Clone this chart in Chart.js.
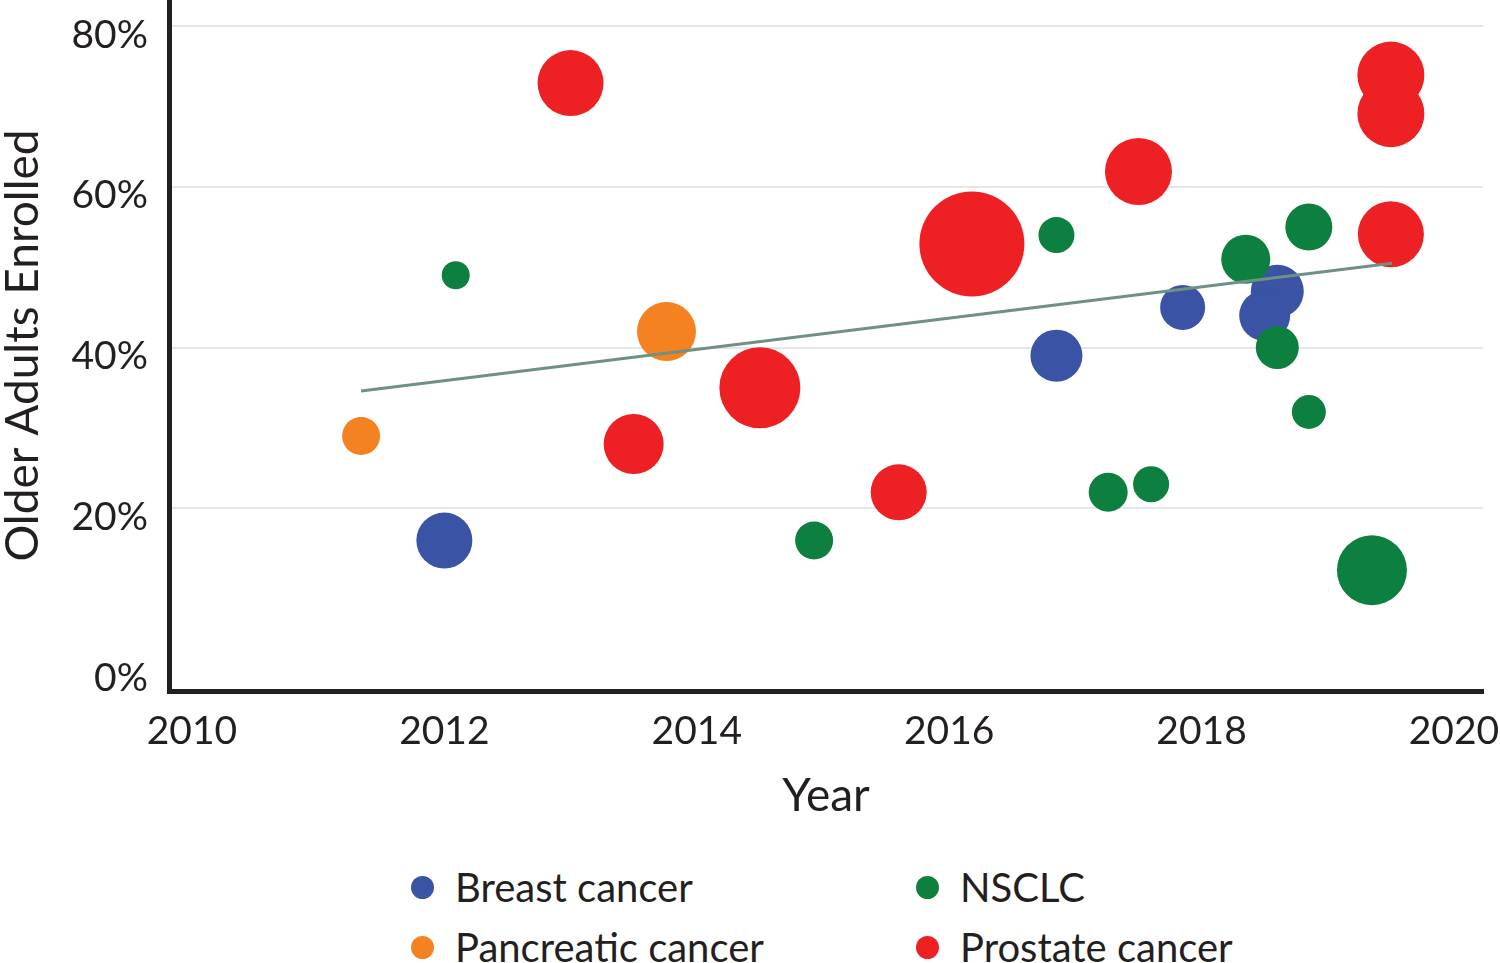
<!DOCTYPE html>
<html>
<head>
<meta charset="utf-8">
<title>Older Adults Enrolled</title>
<script src="https://cdn.jsdelivr.net/npm/chart.js"></script>
<style>
    body { margin: 0; width: 1500px; height: 963px; overflow: hidden; background: #fff; position: relative; font-family: Lato, sans-serif; color: #231f20; }
    #wrap { position: absolute; left: 0; top: 0; width: 1500px; height: 830px; }
    .legend-item { position: absolute; display: flex; align-items: center; font-size: 40px; white-space: nowrap; transform: translateY(-50%); }
    .legend-item .dot { width: 23px; height: 23px; border-radius: 50%; margin-right: 21px; flex: none; }
</style>
</head>
<body>
<div id="wrap"><canvas id="chart" width="1500" height="830"></canvas></div>
<div id="legend"></div>

<script>
// data
const seriesNames = ['Breast cancer', 'Pancreatic cancer', 'NSCLC', 'Prostate cancer'];

const breastYear = [2012.0, 2016.85, 2017.85, 2018.6, 2018.5];
const breastPct  = [16, 39, 45, 47, 44];
const breastSize = [28, 26, 22.5, 26.5, 25.5];

const pancreaticYear = [2011.34, 2013.76];
const pancreaticPct  = [29, 42];
const pancreaticSize = [19, 29.5];

const nsclcYear = [2012.09, 2014.93, 2016.85, 2017.26, 2017.6, 2018.35, 2018.6, 2018.85, 2018.85, 2019.35];
const nsclcPct  = [49, 16, 54, 22, 23, 51, 40, 55, 32, 12.3];
const nsclcSize = [14, 19, 18, 19.5, 18, 24.5, 21.5, 23.5, 17, 35];

const prostateYear = [2013.0, 2013.5, 2014.5, 2015.6, 2016.18, 2017.5, 2019.5, 2019.5, 2019.5];
const prostatePct  = [72.9, 28, 35, 22, 52.9, 61.9, 73.9, 69.1, 54.1];
const prostateSize = [33, 30, 40.5, 28, 52.5, 33.5, 33.5, 33.5, 33];

const trendYear = [2011.34, 2019.51];
const trendPct  = [34.6, 50.5];

const xTicks = [2010, 2012, 2014, 2016, 2018, 2020];
const yTicks = [0, 20, 40, 60, 80];

const colors = ['#3a53a4', '#f58220', '#0d7f3f', '#ed2024'];
const ink = '#231f20';

function bubbles(xs, ys, rs) {
    return xs.map((x, i) => ({ x: x, y: ys[i], r: rs[i] }));
}

const datasets = [
    { label: seriesNames[0], data: bubbles(breastYear, breastPct, breastSize), order: 4 },
    { label: seriesNames[1], data: bubbles(pancreaticYear, pancreaticPct, pancreaticSize), order: 3 },
    { label: seriesNames[2], data: bubbles(nsclcYear, nsclcPct, nsclcSize), order: 2 },
    { label: seriesNames[3], data: bubbles(prostateYear, prostatePct, prostateSize), order: 1 }
].map((d, i) => Object.assign(d, { backgroundColor: colors[i], borderWidth: 0, hoverBorderWidth: 0 }));

datasets.push({
    type: 'line',
    label: 'Trend',
    data: trendYear.map((x, i) => ({ x: x, y: trendPct[i] })),
    borderColor: '#6e9184',
    borderWidth: 3,
    pointRadius: 0,
    fill: false,
    order: 0
});

function draw() {
    const ctx = document.getElementById('chart').getContext('2d');
    new Chart(ctx, {
        type: 'bubble',
        data: { datasets: datasets },
        options: {
            responsive: false,
            animation: false,
            layout: { autoPadding: false, padding: { top: 0, right: 17, bottom: 0, left: 0 } },
            plugins: { legend: { display: false }, tooltip: { enabled: false } },
            scales: {
                x: {
                    type: 'linear',
                    min: 2009.818,
                    max: 2020.23,
                    afterBuildTicks: s => { s.ticks = xTicks.map(v => ({ value: v })); },
                    afterFit: s => { s.height = 139; s.paddingLeft = 0; s.paddingRight = 0; },
                    grid: { display: false, drawTicks: false },
                    border: { display: true, color: ink, width: 5 },
                    ticks: {
                        padding: 17, color: ink, maxRotation: 0, autoSkip: false,
                        font: { family: 'Lato', size: 39 },
                        callback: v => String(v)
                    },
                    title: {
                        display: true, text: 'Year', color: ink,
                        font: { family: 'Lato', size: 46 },
                        padding: { top: 0, bottom: 6 }
                    }
                },
                y: {
                    type: 'linear',
                    min: -2.72,
                    max: 83.24,
                    afterBuildTicks: s => { s.ticks = yTicks.map(v => ({ value: v })); },
                    afterFit: s => { s.width = 169; s.paddingTop = 0; s.paddingBottom = 0; },
                    grid: {
                        drawTicks: false,
                        lineWidth: 2,
                        color: c => (c.tick && c.tick.value === 0) ? 'rgba(0,0,0,0)' : '#e6e6e6'
                    },
                    border: { display: true, color: ink, width: 5 },
                    ticks: {
                        padding: 21, color: ink, labelOffset: 9,
                        font: { family: 'Lato', size: 39 },
                        callback: v => v + '%'
                    },
                    title: {
                        display: true, text: 'Older Adults Enrolled', color: ink,
                        font: { family: 'Lato', size: 46, lineHeight: 1 },
                        padding: { top: 0, bottom: 0 }
                    }
                }
            }
        }
    });

    // legend: two columns, two rows
    const legend = document.getElementById('legend');
    const order = [0, 2, 1, 3];
    const colX = [411, 916];
    const rowY = [887, 947];
    order.forEach((s, k) => {
        const item = document.createElement('div');
        item.className = 'legend-item';
        item.style.left = colX[k % 2] + 'px';
        item.style.top = rowY[Math.floor(k / 2)] + 'px';
        const dot = document.createElement('span');
        dot.className = 'dot';
        dot.style.background = colors[s];
        const txt = document.createElement('span');
        txt.textContent = seriesNames[s];
        item.appendChild(dot);
        item.appendChild(txt);
        legend.appendChild(item);
    });
}

if (document.fonts && document.fonts.load) {
    Promise.all([document.fonts.load('39px Lato'), document.fonts.load('46px Lato')]).then(draw, draw);
} else {
    draw();
}
</script>
</body>
</html>
